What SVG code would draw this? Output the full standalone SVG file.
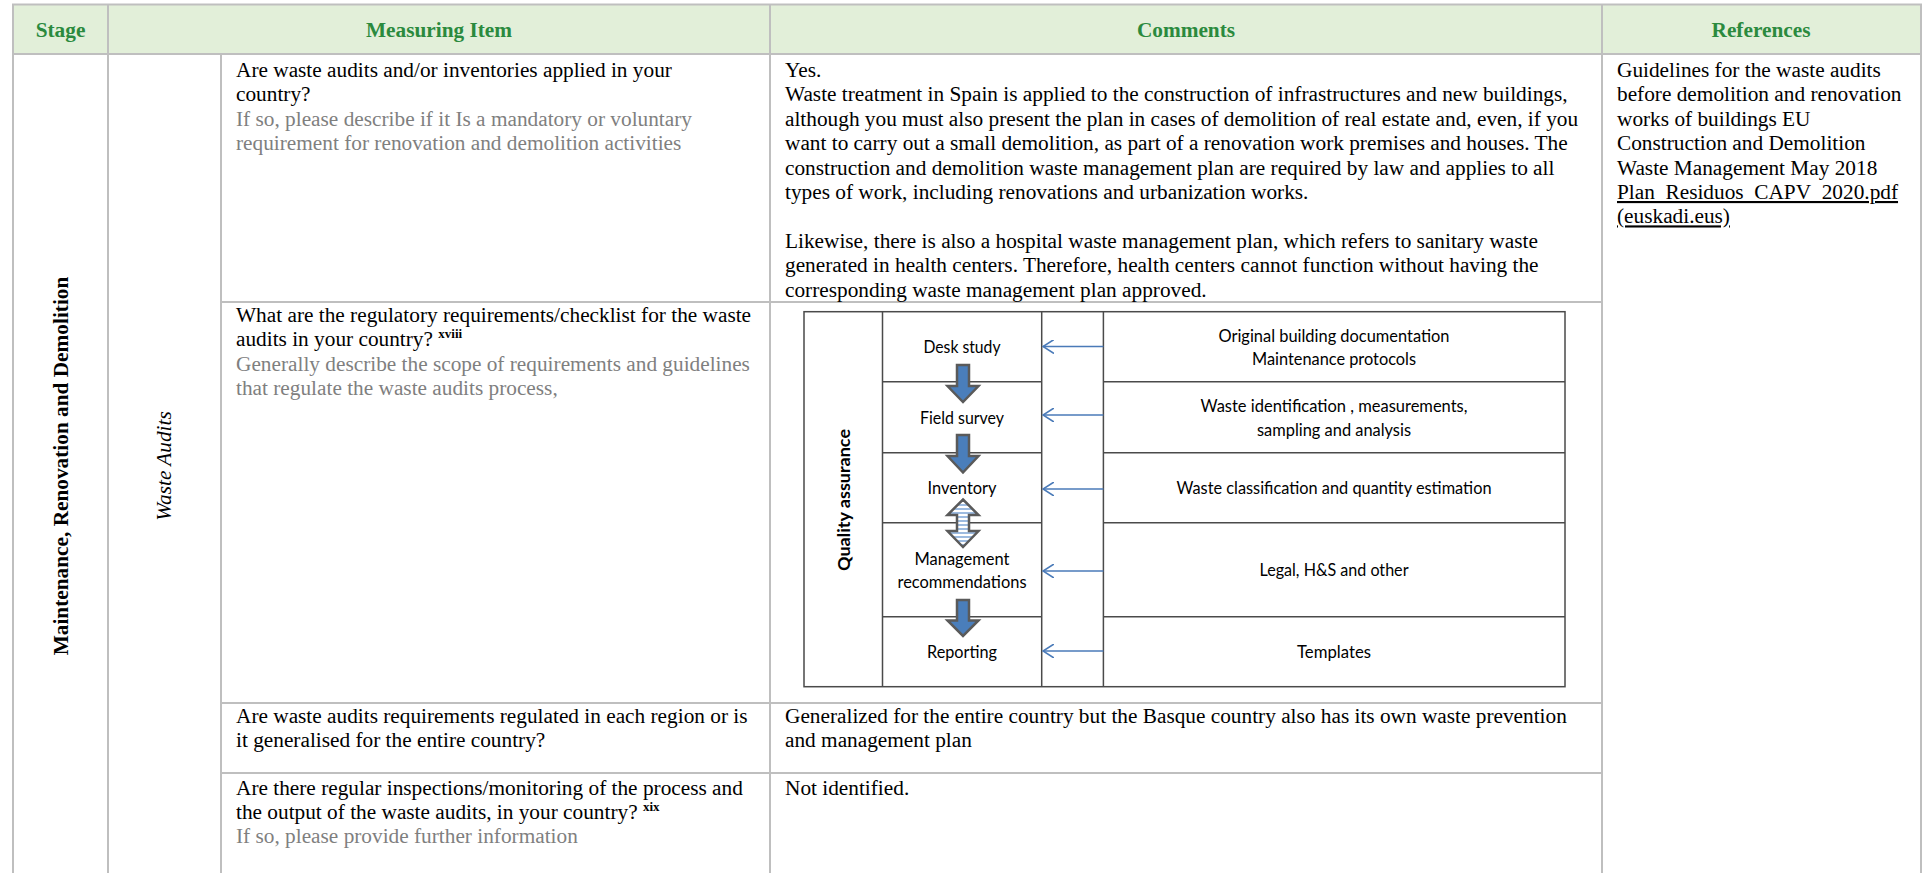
<svg xmlns="http://www.w3.org/2000/svg" width="1928" height="873" viewBox="0 0 1928 873">
<defs>
<style>
.grid{stroke:#bfbfbf;stroke-width:2;fill:none}
.hdr{font-family:"Liberation Serif","Times New Roman",serif;font-size:21.3px;font-weight:bold;fill:#2b8a3e;text-anchor:middle}
.body{font-family:"Liberation Serif","Times New Roman",serif;font-size:21.3px;fill:#000}
.grey{fill:#7f7f7f}
.sup{font-size:13px;font-weight:bold}
.dg{stroke:#4a4a4a;stroke-width:1.5;fill:none}
.dt{font-family:Lato,"Open Sans",sans-serif;font-size:16.8px;fill:#000;text-anchor:middle}
.blk{fill:#4a7ebb;stroke:#5a5a5a;stroke-width:2.5;stroke-linejoin:miter}
.conn{stroke:#4a7ab8;stroke-width:1.6;fill:none}
</style>
<marker id="open" viewBox="0 0 12 14" refX="11" refY="7" markerWidth="12" markerHeight="14" markerUnits="userSpaceOnUse" orient="auto">
<path d="M0,0 L11,7 L0,14" fill="none" stroke="#4a7ab8" stroke-width="1.6"/>
</marker>
<pattern id="stripe" width="6" height="4" patternUnits="userSpaceOnUse">
<rect width="6" height="4" fill="#ffffff"/>
<rect width="6" height="2" fill="#9dbbe0"/>
</pattern>
</defs>
<rect width="1928" height="873" fill="#ffffff"/>

<g id="table-header">
<rect x="13" y="4.5" width="1908" height="49.5" fill="#e2efd9"/>
<text class="hdr" x="60.5" y="37">Stage</text>
<text class="hdr" x="439" y="37">Measuring Item</text>
<text class="hdr" x="1186" y="37">Comments</text>
<text class="hdr" x="1761" y="37">References</text>
</g>

<g id="table-grid">
<line class="grid" x1="12" y1="4.5" x2="1922" y2="4.5"/>
<line class="grid" x1="12" y1="54" x2="1922" y2="54"/>
<line class="grid" x1="13" y1="4" x2="13" y2="873"/>
<line class="grid" x1="108" y1="4" x2="108" y2="873"/>
<line class="grid" x1="221" y1="54" x2="221" y2="873"/>
<line class="grid" x1="770" y1="4" x2="770" y2="873"/>
<line class="grid" x1="1602" y1="4" x2="1602" y2="873"/>
<line class="grid" x1="1921" y1="4" x2="1921" y2="873"/>
<line class="grid" x1="221" y1="302" x2="1602" y2="302"/>
<line class="grid" x1="221" y1="703" x2="1602" y2="703"/>
<line class="grid" x1="221" y1="773" x2="1602" y2="773"/>
</g>

<g id="stage-cell">
<text class="body" font-weight="bold" text-anchor="middle" transform="translate(68,466) rotate(-90)">Maintenance, Renovation and Demolition</text>
</g>

<g id="subcategory-cell">
<text class="body" font-style="italic" font-size="20px" text-anchor="middle" transform="translate(171,466) rotate(-90)">Waste Audits</text>
</g>

<g id="row1-item">
<text class="body">
<tspan x="236" y="77">Are waste audits and/or inventories applied in your</tspan>
<tspan x="236" y="101.4">country?</tspan>
<tspan class="grey" x="236" y="125.8">If so, please describe if it Is a mandatory or voluntary</tspan>
<tspan class="grey" x="236" y="150.2">requirement for renovation and demolition activities</tspan>
</text>
</g>

<g id="row1-comments">
<text class="body">
<tspan x="785" y="77">Yes.</tspan>
<tspan x="785" y="101.4">Waste treatment in Spain is applied to the construction of infrastructures and new buildings,</tspan>
<tspan x="785" y="125.8">although you must also present the plan in cases of demolition of real estate and, even, if you</tspan>
<tspan x="785" y="150.2">want to carry out a small demolition, as part of a renovation work premises and houses. The</tspan>
<tspan x="785" y="174.6">construction and demolition waste management plan are required by law and applies to all</tspan>
<tspan x="785" y="199">types of work, including renovations and urbanization works.</tspan>
<tspan x="785" y="247.8">Likewise, there is also a hospital waste management plan, which refers to sanitary waste</tspan>
<tspan x="785" y="272.2">generated in health centers. Therefore, health centers cannot function without having the</tspan>
<tspan x="785" y="296.6">corresponding waste management plan approved.</tspan>
</text>
</g>

<g id="references">
<text class="body">
<tspan x="1617" y="77">Guidelines for the waste audits</tspan>
<tspan x="1617" y="101.4">before demolition and renovation</tspan>
<tspan x="1617" y="125.8">works of buildings EU</tspan>
<tspan x="1617" y="150.2">Construction and Demolition</tspan>
<tspan x="1617" y="174.6">Waste Management May 2018</tspan>
</text>
<text class="body" x="1617" y="199" text-decoration="underline">Plan_Residuos_CAPV_2020.pdf</text>
<text class="body" x="1617" y="223.4" text-decoration="underline">(euskadi.eus)</text>
</g>

<g id="row2-item">
<text class="body">
<tspan x="236" y="322">What are the regulatory requirements/checklist for the waste</tspan>
<tspan x="236" y="346.4">audits in your country? <tspan class="sup" dy="-8">xviii</tspan></tspan>
<tspan class="grey" x="236" y="370.8">Generally describe the scope of requirements and guidelines</tspan>
<tspan class="grey" x="236" y="395.2">that regulate the waste audits process,</tspan>
</text>
</g>

<g id="audit-diagram">
<rect class="dg" x="804" y="311.7" width="761" height="375" fill="#ffffff"/>
<line class="dg" x1="882.5" y1="311.7" x2="882.5" y2="686.7"/>
<line class="dg" x1="1041.7" y1="311.7" x2="1041.7" y2="686.7"/>
<line class="dg" x1="1103.4" y1="311.7" x2="1103.4" y2="686.7"/>
<line class="dg" x1="882.5" y1="381.7" x2="1041.7" y2="381.7"/>
<line class="dg" x1="882.5" y1="452.7" x2="1041.7" y2="452.7"/>
<line class="dg" x1="882.5" y1="522.7" x2="1041.7" y2="522.7"/>
<line class="dg" x1="882.5" y1="616.7" x2="1041.7" y2="616.7"/>
<line class="dg" x1="1103.4" y1="381.7" x2="1565" y2="381.7"/>
<line class="dg" x1="1103.4" y1="452.7" x2="1565" y2="452.7"/>
<line class="dg" x1="1103.4" y1="522.7" x2="1565" y2="522.7"/>
<line class="dg" x1="1103.4" y1="616.7" x2="1565" y2="616.7"/>
</g>

<g id="qa-label">
<text class="dt" font-weight="bold" textLength="142" lengthAdjust="spacingAndGlyphs" transform="translate(850,500) rotate(-90)">Quality assurance</text>
</g>

<g id="step-desk-study">
<text class="dt" x="962" y="352.5" textLength="77" lengthAdjust="spacingAndGlyphs">Desk study</text>
</g>
<g id="step-field-survey">
<text class="dt" x="962" y="423.5" textLength="84" lengthAdjust="spacingAndGlyphs">Field survey</text>
</g>
<g id="step-inventory">
<text class="dt" x="962" y="493.5" textLength="69" lengthAdjust="spacingAndGlyphs">Inventory</text>
</g>
<g id="step-management">
<text class="dt" x="962" y="565" textLength="95" lengthAdjust="spacingAndGlyphs">Management</text>
<text class="dt" x="962" y="587.5" textLength="129" lengthAdjust="spacingAndGlyphs">recommendations</text>
</g>
<g id="step-reporting">
<text class="dt" x="962" y="657.5" textLength="70" lengthAdjust="spacingAndGlyphs">Reporting</text>
</g>

<g id="input-documentation">
<text class="dt" x="1334" y="341.5" textLength="231" lengthAdjust="spacingAndGlyphs">Original building documentation</text>
<text class="dt" x="1334" y="365" textLength="164" lengthAdjust="spacingAndGlyphs">Maintenance protocols</text>
</g>
<g id="input-identification">
<text class="dt" x="1334" y="412" textLength="267" lengthAdjust="spacingAndGlyphs">Waste identification , measurements,</text>
<text class="dt" x="1334" y="435.5" textLength="154" lengthAdjust="spacingAndGlyphs">sampling and analysis</text>
</g>
<g id="input-classification">
<text class="dt" x="1334" y="493.5" textLength="315" lengthAdjust="spacingAndGlyphs">Waste classification and quantity estimation</text>
</g>
<g id="input-legal">
<text class="dt" x="1334" y="576" textLength="149" lengthAdjust="spacingAndGlyphs">Legal, H&amp;S and other</text>
</g>
<g id="input-templates">
<text class="dt" x="1334" y="657.5" textLength="74" lengthAdjust="spacingAndGlyphs">Templates</text>
</g>

<g id="connectors">
<path class="blk" d="M957,365 H969 V386 H978.5 L963,402 L947.5,386 H957 Z"/>
<path class="blk" d="M957,435 H969 V456 H978.5 L963,472.5 L947.5,456 H957 Z"/>
<path class="blk" style="fill:url(#stripe)" d="M963,499.5 L978.5,515 H969 V531 H978.5 L963,547 L947.5,531 H957 V515 H947.5 Z"/>
<path class="blk" d="M957,600 H969 V620.5 H978.5 L963,636 L947.5,620.5 H957 Z"/>
<line class="conn" x1="1103.4" y1="346.5" x2="1043" y2="346.5" marker-end="url(#open)"/>
<line class="conn" x1="1103.4" y1="415" x2="1043" y2="415" marker-end="url(#open)"/>
<line class="conn" x1="1103.4" y1="489" x2="1043" y2="489" marker-end="url(#open)"/>
<line class="conn" x1="1103.4" y1="571" x2="1043" y2="571" marker-end="url(#open)"/>
<line class="conn" x1="1103.4" y1="651" x2="1043" y2="651" marker-end="url(#open)"/>
</g>

<g id="row3-item">
<text class="body">
<tspan x="236" y="723">Are waste audits requirements regulated in each region or is</tspan>
<tspan x="236" y="747.4">it generalised for the entire country?</tspan>
</text>
</g>
<g id="row3-comments">
<text class="body">
<tspan x="785" y="723">Generalized for the entire country but the Basque country also has its own waste prevention</tspan>
<tspan x="785" y="747.4">and management plan</tspan>
</text>
</g>

<g id="row4-item">
<text class="body">
<tspan x="236" y="795">Are there regular inspections/monitoring of the process and</tspan>
<tspan x="236" y="819">the output of the waste audits, in your country? <tspan class="sup" dy="-8">xix</tspan></tspan>
<tspan class="grey" x="236" y="843">If so, please provide further information</tspan>
</text>
</g>
<g id="row4-comments">
<text class="body" x="785" y="795">Not identified.</text>
</g>
</svg>
